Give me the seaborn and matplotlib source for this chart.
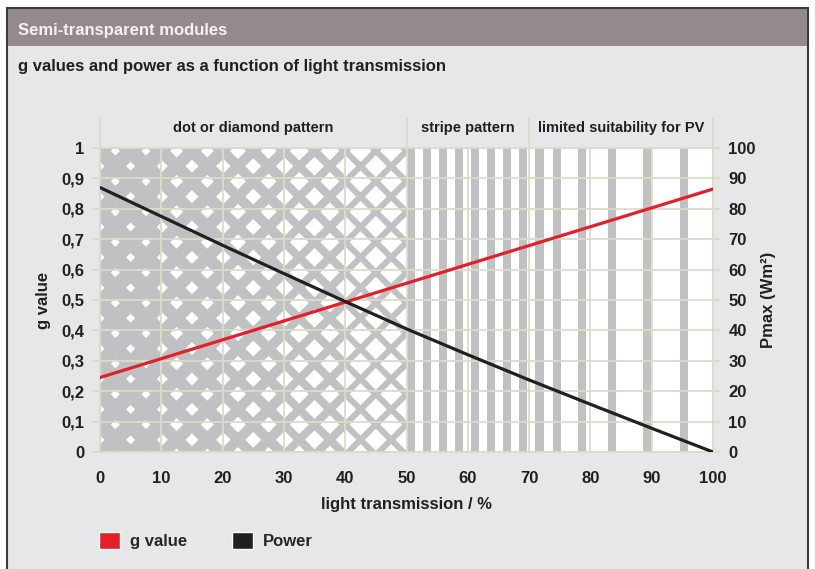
import numpy as np
import pandas as pd
import matplotlib
matplotlib.use('Agg')
import matplotlib.pyplot as plt
import matplotlib.font_manager as fm
import seaborn as sns
from matplotlib.patches import Rectangle, Patch
from matplotlib.collections import PolyCollection

# data
transmission = [0, 10, 20, 30, 40, 50, 60, 70, 80, 90, 100]
g_value = [0.245, 0.307, 0.369, 0.431, 0.493, 0.555, 0.617, 0.679, 0.741, 0.803, 0.865]
power = [87, 77.5, 68, 58.7, 49.5, 40.5, 32, 23.7, 15.7, 7.8, 0]

x_ticks = [0, 10, 20, 30, 40, 50, 60, 70, 80, 90, 100]
g_ticks = [0, 0.1, 0.2, 0.3, 0.4, 0.5, 0.6, 0.7, 0.8, 0.9, 1.0]
g_tick_labels = ['0', '0,1', '0,2', '0,3', '0,4', '0,5', '0,6', '0,7', '0,8', '0,9', '1']
p_ticks = [0, 10, 20, 30, 40, 50, 60, 70, 80, 90, 100]

zone_names = ['dot or diamond pattern', 'stripe pattern', 'limited suitability for PV']
zone_edges = [0, 50, 70, 100]

# background pattern (decoration)
diamond_cells = [0, 10, 20, 30, 40]
diamond_half = [4.5, 6.5, 8, 9.5, 11]   # half diagonal, px
stripe_left = [50.1, 52.7, 55.3, 57.9, 60.5, 63.1, 65.7, 68.3, 71.0, 73.9, 78.0, 82.9, 88.6, 94.6]
stripe_w = 1.35

red = '#e41f2a'
black = '#231f20'
grey = '#c0c1c3'
grid_c = '#dcdbca'
bg = '#e6e7e9'
band = '#958990'

sns.set_style('white')
names = {f.name for f in fm.fontManager.ttflist}
fam = 'Liberation Sans Narrow' if 'Liberation Sans Narrow' in names else 'Liberation Sans'
plt.rcParams['font.family'] = [fam, 'DejaVu Sans']
plt.rcParams['font.weight'] = 'bold'
fs = 12

df = pd.DataFrame({'transmission': transmission, 'g value': g_value, 'Power': power})

W, H = 815, 569
fig = plt.figure(figsize=(8.15, 5.69), dpi=100, facecolor='white')

# frame and header band
fig.patches.append(Rectangle((7 / W, -0.05), 801 / W, (H - 8) / H + 0.05, transform=fig.transFigure,
                             facecolor=bg, edgecolor='#3b3b3b', linewidth=1.5, zorder=-3))
fig.patches.append(Rectangle((7.8 / W, (H - 46) / H), 799.4 / W, 37 / H, transform=fig.transFigure,
                             facecolor=band, edgecolor='none', zorder=-2))
fig.text(18 / W, (H - 30) / H, 'Semi-transparent modules', color='#f6f2f4', fontsize=fs,
         fontweight='bold', va='center', ha='left')
fig.text(18 / W, (H - 66) / H, 'g values and power as a function of light transmission', color=black,
         fontsize=fs, fontweight='bold', va='center', ha='left')

ax = fig.add_axes([100 / W, 117 / H, 613 / W, 304 / H])
ax.set_facecolor('white')
ax.set_xlim(0, 100)
ax.set_ylim(0, 1)

px_x = 613 / 100
px_y = 304

# diamond pattern
ax.add_patch(Rectangle((0, 0), 50, 1, facecolor=grey, edgecolor='none', zorder=1))
cw = 10 * px_x
for x0, d in zip(diamond_cells, diamond_half):
    verts = []
    for k in range(22):
        yc = 1 - (3 + 15.2 * k) / px_y
        offs = [0.25, 0.75] if k % 2 == 0 else [0, 0.5, 1]
        for o in offs:
            xc = x0 + o * cw / px_x
            dx, dy = d / px_x, d / px_y
            verts.append([(xc - dx, yc), (xc, yc + dy), (xc + dx, yc), (xc, yc - dy)])
    pc = PolyCollection(verts, facecolor='white', edgecolor='none', zorder=1.2)
    ax.add_collection(pc)
    pc.set_clip_path(Rectangle((x0, 0), 10, 1, transform=ax.transData))

# stripes
for s in stripe_left:
    ax.add_patch(Rectangle((s, 0), stripe_w, 1, facecolor=grey, edgecolor='none', zorder=1))

ax.set_xticks(x_ticks)
ax.set_yticks(g_ticks)
ax.set_yticklabels(g_tick_labels)
ax.grid(True, color=grid_c, linewidth=1.3)
ax.set_axisbelow(False)
for sp in ax.spines.values():
    sp.set_color(grid_c)
    sp.set_linewidth(1.3)
ax.tick_params(axis='both', length=5, width=1.3, color=grid_c, labelsize=fs, labelcolor=black)
ax.tick_params(axis='x', pad=9)
ax.tick_params(axis='y', pad=6)

sns.lineplot(data=df, x='transmission', y='g value', color=red, linewidth=2.3, ax=ax, zorder=4)

ax2 = ax.twinx()
sns.lineplot(data=df, x='transmission', y='Power', color=black, linewidth=2.3, ax=ax2, zorder=4)
ax2.set_ylim(0, 100)
ax2.set_yticks(p_ticks)
ax2.tick_params(axis='y', length=5, width=1.3, color=grid_c, labelsize=fs, labelcolor=black, pad=6)
for sp in ax2.spines.values():
    sp.set_visible(False)

ax.set_xlabel('light transmission / %', fontsize=fs, fontweight='bold', color=black)
ax.xaxis.set_label_coords(0.5, -(505 - 452) / 304)
ax.xaxis.label.set_va('center')
ax.set_ylabel('g value', fontsize=fs, fontweight='bold', color=black)
ax.yaxis.set_label_coords((44 - 100) / 613, 0.5)
ax.yaxis.label.set_va('center')
ax2.set_ylabel('Pmax (Wm²)', fontsize=fs, fontweight='bold', color=black)
ax2.yaxis.set_label_coords((768 - 100) / 613, 0.5)
ax2.yaxis.label.set_va('center')

# zone header
top = 1 + 30 / 304
for e in zone_edges:
    ax.plot([e, e], [1, top], color=grid_c, linewidth=1.3, clip_on=False, zorder=3)
for name, a, b in zip(zone_names, zone_edges[:-1], zone_edges[1:]):
    ax.text((a + b) / 2, (452 - 128) / 304, name, ha='center', va='center', fontsize=10.5,
            fontweight='bold', color=black, transform=ax.transData, clip_on=False)

handles = [Patch(facecolor=red, label='g value'), Patch(facecolor=black, label='Power')]
fig.legend(handles=handles, loc='lower left', bbox_to_anchor=(99 / W, (H - 549) / H), ncol=2,
           frameon=False, fontsize=fs, handlelength=1.25, handleheight=1.2, handletextpad=0.6,
           columnspacing=2.7, borderpad=0, borderaxespad=0)

fig.savefig('out.png', dpi=100, facecolor='white')
